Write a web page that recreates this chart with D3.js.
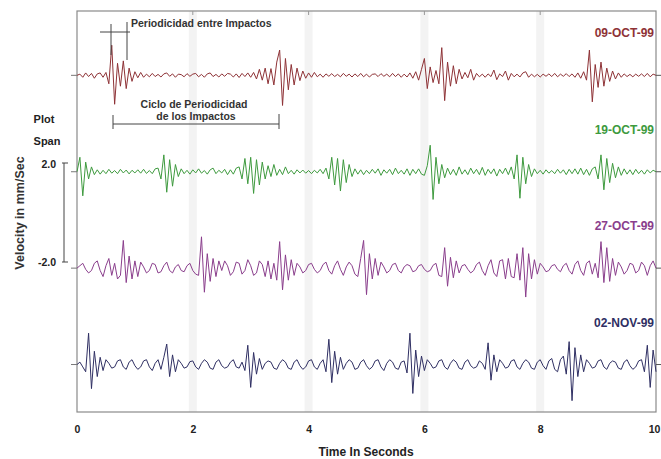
<!DOCTYPE html>
<html><head><meta charset="utf-8">
<script src="https://cdn.jsdelivr.net/npm/d3@7"></script>
<style>
body{margin:0;background:#fff;}
text{font-family:"Liberation Sans",Arial,sans-serif;font-weight:bold;}
</style></head>
<body><svg id="c" width="661" height="459"></svg>
<script>
// ---- data ----
const sampleStep = 0.05; // seconds between samples
const seriesNames = ["09-OCT-99","19-OCT-99","27-OCT-99","02-NOV-99"];
const seriesOffsets = [6, 2, -2, -6]; // stacking offsets (mm/Sec)
const seriesColors = ["#8e3236","#3e9a3e","#8a3e8c","#2f2f63"];
const xTickValues = [0,2,4,6,8,10];
const xTickLabels = ["0","2","4","6","8","10"];
const spanLabels = ["2.0","-2.0"];

const vel09Oct = [
 0,0.05,-0.08,0.1,-0.05,0.08,-0.12,0.06,0.1,-0.08,0.12,-0.35,1.25,-1.2,0.5,-0.45,0.6,-0.55,0.3,-0.25,
 0.15,-0.1,0.12,-0.08,0.05,-0.06,0.08,-0.05,0.04,-0.07,0.06,0.1,-0.04,0.06,-0.08,0.05,0.03,-0.06,0.07,-0.04,
 0.05,0.08,-0.06,0.04,-0.08,0.06,0.1,-0.05,0.04,-0.07,0.06,-0.04,0.08,0.05,-0.07,0.06,-0.09,0.08,-0.05,0.1,
 -0.08,0.12,-0.15,0.25,-0.2,0.3,-0.35,0.28,-0.4,0.55,1.05,-1.25,0.7,-0.6,0.45,-0.4,0.3,-0.22,0.18,-0.12,
 0.1,-0.08,0.12,-0.06,0.05,-0.08,0.06,-0.04,0.07,-0.05,0.04,-0.06,0.08,-0.04,0.05,-0.07,0.06,-0.05,0.08,-0.06,
 0.05,-0.07,0.04,0.06,-0.05,0.07,-0.04,0.05,-0.06,0.08,-0.05,0.06,-0.08,0.05,-0.07,0.1,-0.12,0.15,-0.2,0.25,
 0.7,-0.55,0.35,-0.3,0.2,-0.35,1.15,-1.05,0.55,-0.45,0.4,-0.35,0.25,-0.15,0.12,-0.1,0.25,-0.2,0.08,-0.06,
 0.05,-0.08,0.06,-0.05,0.22,-0.18,0.06,-0.05,0.18,-0.2,0.08,-0.06,0.05,-0.07,0.1,0.15,-0.08,0.05,-0.06,0.04,
 -0.07,0.05,-0.04,0.06,-0.05,0.08,-0.06,0.05,-0.04,0.07,-0.05,0.06,-0.08,0.1,-0.12,0.15,-0.2,1.05,-1.1,0.45,
 -0.5,0.55,-0.45,0.3,-0.25,0.18,-0.15,0.1,-0.08,0.06,-0.05,0.04,-0.06,0.05,-0.04,0.06,-0.05,0.08,-0.06,0.05,
 0];

const vel19Oct = [
 0,0.6,-1.0,0.4,-0.3,0.2,-0.12,0.08,-0.1,0.06,-0.08,0.1,-0.06,0.05,-0.08,0.1,-0.05,0.07,-0.09,0.06,
 -0.05,0.08,-0.06,0.1,-0.07,0.05,-0.08,0.12,0.15,-0.3,0.7,-0.85,0.5,-0.6,0.3,-0.2,0.12,-0.08,0.06,-0.1,
 0.08,-0.05,0.12,-0.06,0.05,-0.1,0.08,0.15,-0.08,0.06,-0.05,0.1,-0.12,0.08,-0.1,0.15,0.2,-0.3,0.55,-0.5,
 0.6,-0.9,0.5,-0.55,0.4,-0.3,0.25,-0.2,0.3,-0.15,0.1,-0.12,0.2,-0.08,0.06,-0.1,0.08,-0.05,0.07,-0.06,
 0.05,-0.08,0.06,-0.05,0.1,-0.08,0.15,-0.3,0.6,-0.55,0.55,-0.8,0.5,-0.45,0.3,-0.2,0.12,-0.1,0.08,-0.12,
 0.06,-0.08,0.1,-0.06,0.12,-0.15,0.08,-0.06,0.1,-0.12,0.15,-0.08,0.06,-0.1,0.12,-0.15,0.1,-0.08,0.12,-0.1,
 -0.15,0.25,1.1,-1.15,0.6,-0.5,0.3,-0.25,0.15,-0.12,0.1,-0.15,0.2,-0.1,0.08,-0.12,0.15,-0.08,0.1,-0.12,
 0.18,-0.15,0.1,-0.08,0.12,-0.18,0.1,-0.08,0.15,-0.12,0.2,-0.3,0.7,-1.1,0.6,-0.5,0.3,-0.2,0.12,-0.08,
 0.06,-0.1,0.08,-0.06,0.05,-0.08,0.1,-0.06,0.08,-0.12,0.1,-0.08,0.12,-0.1,0.15,-0.12,0.1,-0.15,0.12,0.2,
 -0.3,0.7,-0.75,0.55,-0.45,0.35,-0.25,0.2,-0.15,0.12,-0.1,0.08,-0.12,0.1,-0.08,0.06,-0.1,0.08,-0.05,0.06,
 0];

const vel27Oct = [
 0,0.1,0.2,-0.05,-0.2,-0.1,0.2,0.3,-0.1,-0.35,0.1,0.4,-0.3,0.2,-0.45,-0.3,1.15,-0.6,0.5,-0.45,
 0.3,-0.35,0.25,0.05,-0.2,-0.1,0.2,0.15,-0.2,-0.15,0.1,0.25,-0.1,-0.2,0.05,0.15,-0.1,-0.15,0.1,0.2,
 -0.1,-0.25,-0.3,1.3,-1.0,0.6,-0.55,0.4,-0.35,0.3,-0.1,0.3,0.1,-0.3,-0.15,0.25,0.2,-0.25,-0.1,0.35,
 0.1,-0.3,-0.2,0.3,0.15,-0.35,0.3,-0.45,0.2,-0.5,1.1,-0.9,0.55,-0.5,0.35,-0.3,0.2,0.05,-0.2,-0.1,
 0.15,0.2,-0.05,-0.2,-0.1,0.15,0.25,-0.1,-0.25,0.1,0.3,-0.05,-0.3,0.05,0.25,0.1,-0.25,-0.35,0.4,1.15,
 -1.1,0.6,-0.45,0.4,-0.3,0.25,0.05,-0.2,-0.1,0.15,0.2,-0.1,-0.2,0.05,0.15,0.1,-0.15,-0.1,0.1,0.15,
 -0.05,-0.15,-0.1,0.12,0.2,-0.3,-0.35,0.85,-0.75,0.45,-0.4,0.3,-0.2,0.1,0.15,-0.05,-0.2,-0.1,0.15,0.25,
 -0.1,-0.3,0.1,0.35,-0.2,-0.35,0.3,0.35,-0.45,0.4,-0.35,-0.4,0.6,-0.5,0.85,-1.2,0.6,-0.45,0.35,-0.25,
 0.2,0.05,-0.15,-0.1,0.1,0.15,-0.05,-0.15,0.1,0.2,-0.1,-0.25,0.15,0.3,-0.1,-0.3,0.2,0.3,-0.25,0.2,
 -0.4,1.1,-0.6,0.85,-0.55,0.4,-0.3,0.25,0.05,-0.25,-0.1,0.2,0.15,-0.2,-0.1,0.25,0.1,-0.3,0.1,0.3,
 0];

const vel02Nov = [
 0,0.1,-0.1,-0.3,1.3,-1.0,0.55,-0.5,0.3,-0.25,0.2,0.05,-0.15,-0.1,0.15,0.2,-0.1,-0.2,0.1,0.2,
 -0.05,-0.2,-0.1,0.15,0.2,-0.1,-0.25,0.05,0.2,-0.2,0.3,0.85,-0.5,0.4,-0.3,0.2,0.05,-0.15,-0.1,0.12,
 0.15,-0.1,-0.2,0.05,0.2,0.1,-0.15,-0.2,0.1,0.2,-0.05,-0.15,-0.1,0.1,0.2,-0.1,-0.15,0.1,-0.25,0.8,
 -0.95,0.5,-0.4,0.25,-0.2,0.05,0.15,0.1,-0.15,-0.2,0.05,0.2,0.1,-0.15,-0.2,0.1,0.2,-0.05,-0.2,-0.1,
 0.15,0.2,-0.1,-0.2,0.05,0.2,-0.3,1.05,-0.75,0.55,-0.4,0.3,-0.2,0.05,0.2,0.1,-0.2,-0.15,0.1,0.2,
 -0.05,-0.2,-0.1,0.15,0.2,-0.1,-0.25,0.05,0.2,0.1,-0.15,-0.2,0.1,0.15,-0.35,1.3,-1.2,0.6,-0.5,0.35,
 -0.25,0.2,0.05,-0.15,-0.1,0.15,0.2,-0.1,-0.2,0.05,0.2,0.1,-0.15,-0.2,0.1,0.2,-0.05,-0.15,-0.1,0.15,
 0.05,-0.2,0.9,-0.65,0.4,-0.3,0.2,0.05,-0.15,-0.1,0.15,0.2,-0.1,-0.2,0.05,0.2,0.1,-0.15,-0.2,0.1,
 0.2,-0.05,-0.2,0.15,0.25,-0.2,-0.3,0.2,0.35,-0.4,0.95,-1.5,0.7,-0.5,0.4,-0.3,0.2,0.05,-0.15,-0.1,
 0.15,0.2,-0.1,-0.2,0.05,0.15,0.1,-0.15,-0.2,0.1,0.2,-0.05,-0.2,-0.1,0.15,0.2,-0.3,0.8,-0.95,0.6,
 -0.3];

const seriesValues = [vel09Oct, vel19Oct, vel27Oct, vel02Nov];

// ---- chart ----
const svg = d3.select("#c");
const L = 77, R = 656, T = 11, B = 412;
const x = d3.scaleLinear().domain([0,10]).range([L,R]);
const y = d3.scaleLinear().domain([-7.97, 8.67]).range([B,T]);

// grid bands
svg.append("g").selectAll("rect").data(xTickValues.filter(v=>v>0&&v<10)).join("rect")
  .attr("x", d=>x(d)-4).attr("y", T).attr("width", 8).attr("height", B-T)
  .attr("fill", "#f3f3f3");

// plot frame
svg.append("rect").attr("x",L).attr("y",T).attr("width",R-L).attr("height",B-T)
  .attr("fill","none").attr("stroke","#8a8a8a").attr("stroke-width",1.2);

// x axis
const xAxis = d3.axisBottom(x).tickValues(xTickValues).tickFormat((d,i)=>xTickLabels[i]).tickSize(0).tickPadding(14);
const gx = svg.append("g").attr("transform",`translate(0,${B})`).call(xAxis);
gx.select(".domain").remove();
gx.selectAll("text").attr("font-size",10.5).attr("fill","#222")
  .style("font-family","'Liberation Sans',Arial,sans-serif").style("font-weight","bold");
gx.selectAll(".tick").filter(d=>d===10).select("text").attr("dx",-2);

// top and bottom ticks
svg.append("g").selectAll("line").data(xTickValues.filter(v=>v>0&&v<10)).join("line")
  .attr("x1",d=>x(d)).attr("x2",d=>x(d)).attr("y1",T).attr("y2",T+4).attr("stroke","#999");

svg.append("text").attr("x",366).attr("y",456).attr("text-anchor","middle")
  .attr("font-size",12).attr("fill","#222").text("Time In Seconds");

// y title
svg.append("text").attr("transform","translate(24,213) rotate(-90)").attr("text-anchor","middle")
  .attr("font-size",12.5).attr("fill","#333").text("Velocity in mm/Sec");

// plot span
svg.append("text").attr("x",44).attr("y",123).attr("text-anchor","middle").attr("font-size",11).attr("fill","#222").text("Plot");
svg.append("text").attr("x",47).attr("y",145).attr("text-anchor","middle").attr("font-size",11).attr("fill","#222").text("Span");
svg.append("text").attr("x",56).attr("y",168).attr("text-anchor","end").attr("font-size",10.5).attr("fill","#222").text(spanLabels[0]);
svg.append("text").attr("x",56).attr("y",266).attr("text-anchor","end").attr("font-size",10.5).attr("fill","#222").text(spanLabels[1]);
svg.append("line").attr("x1",64).attr("x2",64).attr("y1",163).attr("y2",262).attr("stroke","#444");
svg.append("line").attr("x1",62).attr("x2",68).attr("y1",163).attr("y2",163).attr("stroke","#444");
svg.append("line").attr("x1",62).attr("x2",68).attr("y1",262).attr("y2",262).attr("stroke","#444");

// traces
const line = d3.line().x((d,i)=>x(i*sampleStep));
seriesValues.forEach((vals, k) => {
  const off = seriesOffsets[k];
  svg.append("path").datum(vals)
    .attr("d", line.y(d=>y(d+off)))
    .attr("fill","none").attr("stroke",seriesColors[k]).attr("stroke-width",1)
    .attr("stroke-linejoin","round");
  svg.append("line").attr("x1",L-6).attr("x2",L).attr("y1",y(off)).attr("y2",y(off)).attr("stroke","#777");
  svg.append("line").attr("x1",R).attr("x2",R+5).attr("y1",y(off)).attr("y2",y(off)).attr("stroke","#555");
  svg.append("text").attr("x",654).attr("y",y(off)-38).attr("text-anchor","end")
    .attr("font-size",12).attr("fill",seriesColors[k]).text(seriesNames[k]);
});

// annotations
const ann = svg.append("g").attr("stroke","#444").attr("stroke-width",1);
ann.append("line").attr("x1",100).attr("x2",130).attr("y1",32).attr("y2",32);
ann.append("line").attr("x1",111).attr("x2",111).attr("y1",24).attr("y2",55);
ann.append("line").attr("x1",127).attr("x2",127).attr("y1",22).attr("y2",60);
svg.append("text").attr("x",131).attr("y",27).attr("font-size",10.5).attr("fill","#333").text("Periodicidad entre Impactos");

ann.append("line").attr("x1",113).attr("x2",279).attr("y1",124).attr("y2",124);
ann.append("line").attr("x1",113).attr("x2",113).attr("y1",115).attr("y2",129);
ann.append("line").attr("x1",279).attr("x2",279).attr("y1",114).attr("y2",129);
svg.append("text").attr("x",194).attr("y",108).attr("text-anchor","middle").attr("font-size",10.5).attr("fill","#333").text("Ciclo de Periodicidad");
svg.append("text").attr("x",196).attr("y",120).attr("text-anchor","middle").attr("font-size",10.5).attr("fill","#333").text("de los Impactos");
</script></body></html>
